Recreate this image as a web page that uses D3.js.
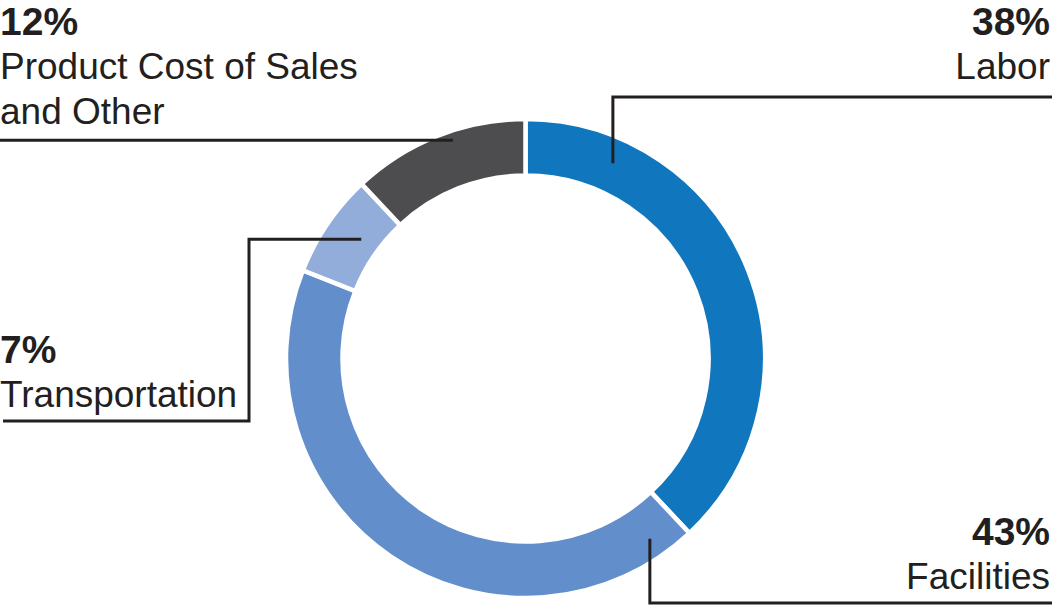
<!DOCTYPE html>
<html>
<head>
<meta charset="utf-8">
<script src="https://cdn.jsdelivr.net/npm/d3@7"></script>
<style>
  html, body { margin: 0; padding: 0; background: #fff; }
  svg { display: block; }
  text { font-family: "Liberation Sans", Arial, Helvetica, sans-serif; fill: #231f20; }
</style>
</head>
<body>
<svg id="chart" width="1052" height="610"></svg>
<script>
// slice data, clockwise from 12 o'clock
var categories = ["Labor", "Facilities", "Transportation", "Product Cost of Sales|and Other"];
var shares = [38, 43, 7, 12];
var colors = ["#1076be", "#628fcb", "#93addb", "#4d4c4e"];

var width = 1052, height = 610;
var cx = 525.5, cy = 358.5;
var outerR = 239.5, innerR = 183;

var svg = d3.select("#chart");

var pie = d3.pie().sort(null).value(function(d) { return d; });
var arc = d3.arc().innerRadius(innerR).outerRadius(outerR);

var slices = pie(shares);

var g = svg.append("g").attr("transform", "translate(" + cx + "," + cy + ")");

g.selectAll("path.slice")
  .data(slices)
  .enter().append("path")
  .attr("class", "slice")
  .attr("d", arc)
  .attr("fill", function(d, i) { return colors[i]; })
  .attr("stroke", "#fff")
  .attr("stroke-width", 4.5)
  .attr("stroke-linejoin", "miter");

// label layout: leader start (angle on ring, radius), elbow points, text anchor
var layout = [
  { a: 24.1, r: 214, path: function(p) { return [p, [p[0], 97], [width, 97]]; },
    x: 1050, y: 35, anchor: "end" },
  { a: 145.4, r: 219, path: function(p) { return [p, [p[0], 603], [width, 603]]; },
    x: 1050, y: 545, anchor: "end" },
  { a: 306, r: 203, path: function(p) { return [p, [249, p[1]], [249, 421], [3, 421]]; },
    x: 0, y: 363, anchor: "start" },
  { a: 341.6, r: 230, path: function(p) { return [p, [0, p[1]]]; },
    x: 0, y: 35, anchor: "start" }
];

var line = d3.line();

layout.forEach(function(l, i) {
  var rad = l.a * Math.PI / 180;
  var p = [cx + l.r * Math.sin(rad), cy - l.r * Math.cos(rad)];
  svg.append("path")
    .attr("d", line(l.path(p)))
    .attr("fill", "none")
    .attr("stroke", "#231f20")
    .attr("stroke-width", 3);

  var t = svg.append("text")
    .attr("x", l.x)
    .attr("y", l.y)
    .attr("text-anchor", l.anchor);
  t.append("tspan")
    .attr("x", l.x)
    .attr("font-weight", "bold")
    .attr("font-size", 39)
    .text(shares[i] + "%");
  categories[i].split("|").forEach(function(s, k) {
    t.append("tspan")
      .attr("x", l.x)
      .attr("dy", k === 0 ? 44 : 45)
      .attr("font-size", 37)
      .text(s);
  });
});
</script>
</body>
</html>
